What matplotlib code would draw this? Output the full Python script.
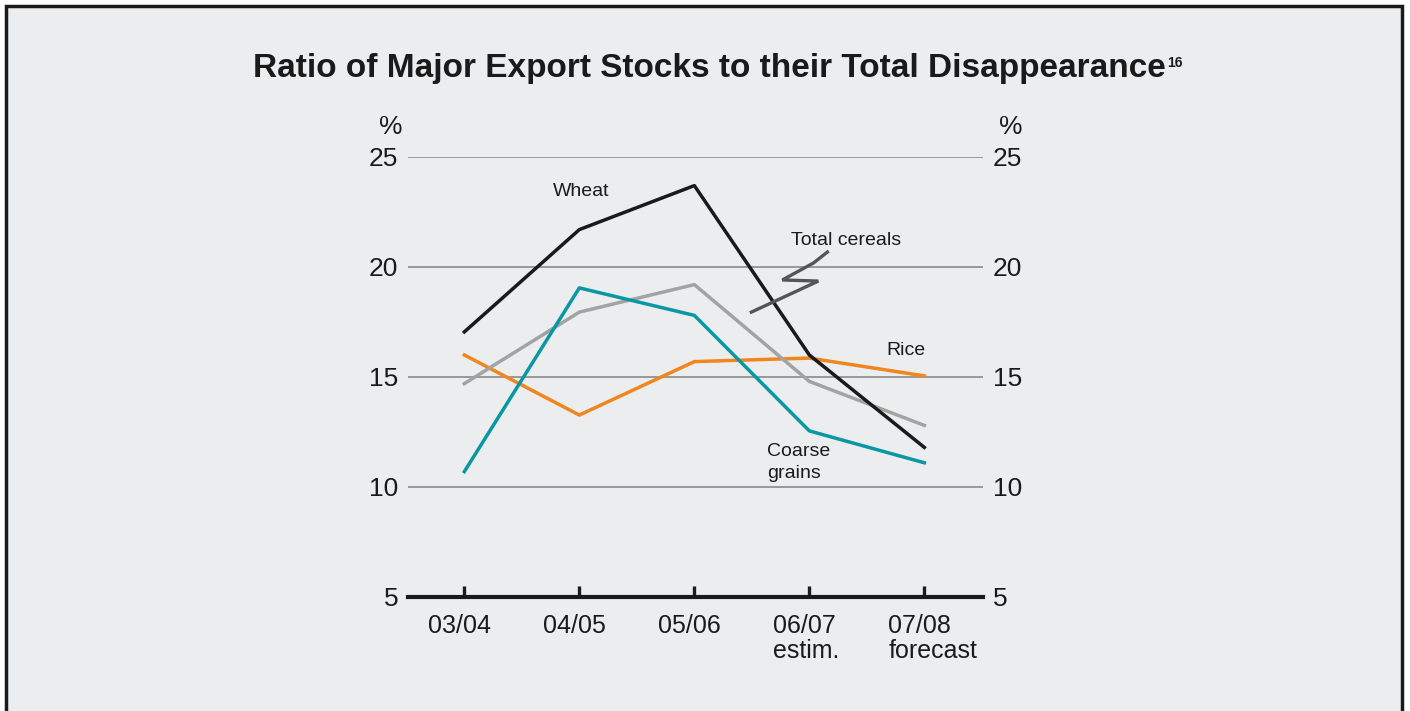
import matplotlib.pyplot as plt
import matplotlib.transforms as mtransforms
from matplotlib.patches import Rectangle

plt.rcParams['font.family'] = ['Liberation Sans', 'DejaVu Sans']

# marketing years on the x axis
years = ["03/04", "04/05", "05/06", "06/07", "07/08"]
year_notes = ["", "", "", "estim.", "forecast"]

# ratio of stocks to disappearance, %
wheat = [17.05, 21.7, 23.7, 16.0, 11.8]
total_cereals = [14.7, 17.95, 19.2, 14.8, 12.8]
coarse_grains = [10.7, 19.05, 17.8, 12.55, 11.1]
rice = [16.0, 13.27, 15.7, 15.86, 15.05]

y_ticks = [5, 10, 15, 20, 25]

# leader line for the "Total cereals" label (data coords)
leader_x = [2.496, 3.078, 2.765, 3.035, 3.157]
leader_y = [17.95, 19.36, 19.41, 20.18, 20.68]

bg = "#ecedef"
ink = "#1a1a1a"

fig = plt.figure(figsize=(14.1, 7.11), dpi=100)
fig.patch.set_facecolor("white")

# panel with black border on left, top and right
panel = Rectangle((6 / 1410, -0.01), 1396 / 1410, 1 - 6 / 711 + 0.01,
                  transform=fig.transFigure, facecolor=bg,
                  edgecolor=ink, linewidth=2.5, zorder=-5)
fig.patches.append(panel)

fig.text(253 / 1410, 1 - 77 / 711, "Ratio of Major Export Stocks to their Total Disappearance",
         ha="left", va="baseline", fontsize=24, fontweight="bold", color=ink)
fig.text(1167 / 1410, 1 - 67 / 711, "16", ha="left", va="baseline",
         fontsize=10, fontweight="bold", color=ink)

ax = fig.add_axes([408 / 1410, 1 - 597 / 711, 575 / 1410, 440 / 711])
ax.set_facecolor("none")
x = list(range(len(years)))

for yv in y_ticks[1:]:
    ax.axhline(yv, color="#8a8a8a", lw=1.2, zorder=1)

ax.plot(x, rice, color="#f0861e", lw=2.5, zorder=3)
ax.plot(x, total_cereals, color="#a3a3a3", lw=2.5, zorder=3)
ax.plot(x, coarse_grains, color="#0a97a4", lw=2.5, zorder=3)
ax.plot(x, wheat, color=ink, lw=2.5, zorder=4)
ax.plot(leader_x, leader_y, color="#555555", lw=2.4, zorder=4,
        solid_joinstyle="miter")

txt = dict(fontsize=14, color=ink, va="baseline")
ax.text(1.02, 23.23, "Wheat", ha="center", **txt)
ax.text(3.32, 21.0, "Total cereals", ha="center", **txt)
ax.text(3.84, 16.0, "Rice", ha="center", **txt)
ax.text(2.63, 11.4, "Coarse", ha="left", **txt)
ax.text(2.63, 10.4, "grains", ha="left", **txt)

ax.set_xlim(-0.49, 4.51)
ax.set_ylim(5, 25)
ax.set_xticks(x)
ax.set_xticklabels([])
ax.set_yticks(y_ticks)
ax.set_yticklabels([str(v) for v in y_ticks], fontsize=19, color=ink)

# x labels: year centred on tick, note left-aligned under it
blend = mtransforms.blended_transform_factory(ax.transData, ax.transAxes)
for i, (yr, note) in enumerate(zip(years, year_notes)):
    t = ax.text(i - 0.04, -36 / 440, yr, transform=blend, ha="center",
                va="baseline", fontsize=18, color=ink)
    if note:
        fig.canvas.draw()
        bb = t.get_window_extent()
        x0 = ax.transData.inverted().transform((bb.x0, 0))[0]
        ax.text(x0, -61 / 440, note, transform=blend, ha="left",
                va="baseline", fontsize=18, color=ink)

for s in ["left", "right", "top"]:
    ax.spines[s].set_visible(False)
ax.spines["bottom"].set_linewidth(3)
ax.spines["bottom"].set_color(ink)
ax.spines["bottom"].set_zorder(5)
ax.tick_params(axis="x", direction="in", length=8, width=2.4, color=ink)
ax.tick_params(axis="y", length=0, pad=7, labelright=True, labelleft=True)

ax.text(-5 / 575, 1.068, "%", transform=ax.transAxes, ha="right", va="center",
        fontsize=19, color=ink)
ax.text(1 + 40 / 575, 1.068, "%", transform=ax.transAxes, ha="right", va="center",
        fontsize=19, color=ink)

fig.savefig("out.png", dpi=100, facecolor=fig.get_facecolor())
